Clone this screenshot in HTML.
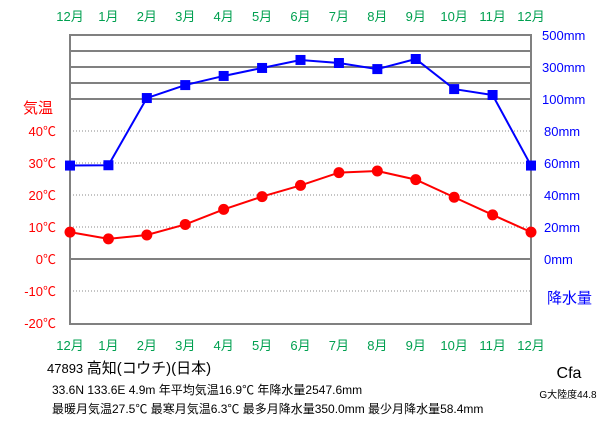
<!DOCTYPE html>
<html><head><meta charset="utf-8"><style>
body{margin:0;background:#fff}
svg{display:block;font-family:"Liberation Sans","Noto Sans CJK JP",sans-serif}
</style></head><body>
<svg id="c" width="611" height="425" viewBox="0 0 611 425">
<g id="grid"></g>
<g id="labels"></g>
<g id="series"></g>
<g font-size="13" fill="#000">
<text x="47" y="373">47893  <tspan font-size="15">高知(コウチ)(日本)</tspan></text>
<text x="52" y="394" font-size="12">33.6N  133.6E  4.9m  年平均気温16.9℃  年降水量2547.6mm</text>
<text x="52" y="413" font-size="12">最暖月気温27.5℃ 最寒月気温6.3℃ 最多月降水量350.0mm 最少月降水量58.4mm</text>
<text x="569" y="378" font-size="16" text-anchor="middle">Cfa</text>
<text x="568" y="398" font-size="10" text-anchor="middle">G大陸度44.8</text>
</g>
</svg>
<script>
const months=["12月","1月","2月","3月","4月","5月","6月","7月","8月","9月","10月","11月","12月"];
const temps=[8.4,6.3,7.5,10.8,15.5,19.5,23.0,27.0,27.5,24.8,19.3,13.8,8.4];
const precip=[58.4,58.6,106,187,244,294,344,325,287,350,162,125,58.4];
const tempTicks=[40,30,20,10,0,-10,-20];
const precipTicksLow=[80,60,40,20,0];
const precipTicksHigh=[500,400,300,200,100];
const NS="http://www.w3.org/2000/svg";
const L=70,R=531,T=35,B=324;
const xs=i=>L+i*(R-L)/12;
const yT=t=>259-t*3.2;
const yP=p=>p<=100?259-p*1.6:99-(p-100)*0.16;
function mk(tag,at,parent,txt){const e=document.createElementNS(NS,tag);for(const k in at)e.setAttribute(k,at[k]);if(txt!==undefined)e.textContent=txt;document.getElementById(parent).appendChild(e);return e;}
// dotted temp grid
tempTicks.forEach(t=>{if(t===0||t===-20)return;const e=mk('line',{x1:L,x2:R,y1:yT(t),y2:yT(t),stroke:'#888','stroke-dasharray':'1,2'},'grid');

});
precipTicksHigh.forEach(p=>{const e=mk('line',{x1:L,x2:R,y1:yP(p),y2:yP(p),stroke:'#808080','stroke-width':2},'grid');

});
const z=mk('line',{x1:L,x2:R,y1:yT(0),y2:yT(0),stroke:'#808080','stroke-width':2},'grid');


const fr=mk('rect',{x:L,y:T,width:R-L,height:B-T,fill:'none',stroke:'#808080','stroke-width':2},'grid');


months.forEach((m,i)=>{
 const a=mk('text',{x:xs(i),y:21,'text-anchor':'middle',fill:'#00a050','font-size':13},'labels',m);
 
 
 const b=mk('text',{x:xs(i),y:350,'text-anchor':'middle',fill:'#00a050','font-size':13},'labels',m);
 
 
});
tempTicks.forEach(t=>{const e=mk('text',{x:56,y:yT(t)+5,'text-anchor':'end',fill:'#f00','font-size':13},'labels',t+'℃');

});
const tt=mk('text',{x:23,y:113,fill:'#f00','font-size':15},'labels','気温');


precipTicksLow.forEach(p=>{const e=mk('text',{x:544,y:yP(p)+5,fill:'#00f','font-size':13},'labels',p+'mm');

});
[500,300,100].forEach(p=>{const e=mk('text',{x:542,y:yP(p)+5,fill:'#00f','font-size':13},'labels',p+'mm');

});
const pt=mk('text',{x:547,y:303,fill:'#00f','font-size':15},'labels','降水量');


const pl=mk('polyline',{points:precip.map((p,i)=>xs(i)+','+yP(p)).join(' '),fill:'none',stroke:'#00f','stroke-width':2},'series');


precip.forEach((p,i)=>{const e=mk('rect',{x:xs(i)-5,y:yP(p)-5,width:10,height:10,fill:'#00f'},'series');

});
const tl=mk('polyline',{points:temps.map((t,i)=>xs(i)+','+yT(t)).join(' '),fill:'none',stroke:'#f00','stroke-width':2},'series');


temps.forEach((t,i)=>{const e=mk('circle',{cx:xs(i),cy:yT(t),r:5.5,fill:'#f00'},'series');

});
</script>
</body></html>
